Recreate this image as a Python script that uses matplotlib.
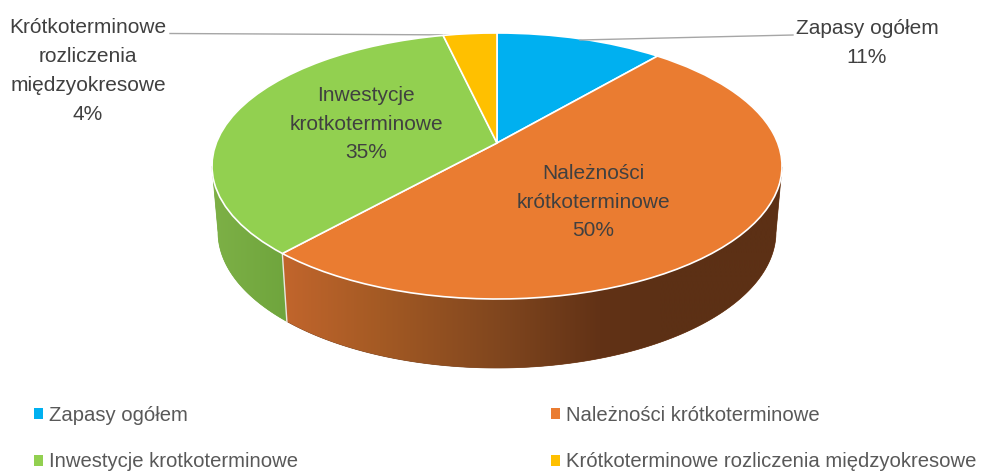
import numpy as np
import matplotlib
matplotlib.use('Agg')
import matplotlib.pyplot as plt
from matplotlib.colors import to_rgb
from matplotlib.patches import Polygon
from matplotlib.transforms import Transform

plt.rcParams['font.family'] = ['Liberation Sans']

categories = ['Zapasy ogółem', 'Należności krótkoterminowe',
              'Inwestycje krotkoterminowe', 'Krótkoterminowe rozliczenia międzyokresowe']
label_text = ['Zapasy ogółem', 'Należności\nkrótkoterminowe',
              'Inwestycje\nkrotkoterminowe', 'Krótkoterminowe\nrozliczenia\nmiędzyokresowe']
values = [11.2, 50.4, 34.8, 3.6]
colors = ['#00b0f0', '#ea7c31', '#92d050', '#ffc000']

# side wall shading, x pixel -> colour
side_stops = {
    1: ([285, 380, 500, 600, 660], ['#c1652c', '#a45a24', '#80461e', '#623216', '#5c3015']),
    2: ([215, 285], ['#7db046', '#6fa53d']),
}

label_xy = [(867, 43), (593, 202), (366, 124), (88, 71)]

# disc geometry in pixels
CX, CY, RX, RY = 497, 166, 285, 133
CY2, RX2, RY2 = 232, 279, 136
A = 0.173


def persp(x, y):
    d = 1 + A * y
    return x * np.sqrt(1 - A * A) / d, (y + A) / d


class Perspective(Transform):
    input_dims = 2
    output_dims = 2

    def transform_non_affine(self, v):
        v = np.asarray(v)
        x, y = persp(v[:, 0], v[:, 1])
        return np.column_stack([CX + RX * x, CY - RY * y])


fig = plt.figure(figsize=(9.89, 4.71), dpi=100)
ax = fig.add_axes([0, 0, 1, 1])

wedges, _ = ax.pie(values, colors=colors, startangle=90, counterclock=False,
                   wedgeprops={'edgecolor': '#ffffff', 'linewidth': 1.2, 'zorder': 3})
tr = Perspective() + ax.transData
for w in wedges:
    w.set_transform(tr)

# side wall
fracs = np.cumsum([0] + values) / sum(values)
for i in range(len(values)):
    if i not in side_stops:
        continue
    th = 2 * np.pi * np.linspace(fracs[i], fracs[i + 1], 500)
    x, y = persp(np.sin(th), np.cos(th))
    keep = y <= 0
    x, y = x[keep], y[keep]
    up = np.column_stack([CX + RX * x, CY - RY * y])
    lo = np.column_stack([CX + RX2 * x, CY2 - RY2 * y])
    stops_x, stops_c = side_stops[i]
    rgb = np.array([to_rgb(c) for c in stops_c])
    x0, x1 = min(up[:, 0].min(), lo[:, 0].min()), max(up[:, 0].max(), lo[:, 0].max())
    gx = np.linspace(x0, x1, 400)
    grad = np.column_stack([np.interp(gx, stops_x, rgb[:, k]) for k in range(3)])[None, :, :]
    poly = Polygon(np.vstack([up, lo[::-1]]), closed=True, facecolor=grad[0, 200],
                   edgecolor=grad[0, 200], lw=0.5, zorder=1.8)
    ax.add_patch(poly)
    im = ax.imshow(grad, extent=(x0, x1, 471, 0), aspect='auto', zorder=2, interpolation='bilinear')
    im.set_clip_path(poly)

ax.set_aspect('auto')
ax.set_xlim(0, 989)
ax.set_ylim(471, 0)
ax.axis('off')

# seam between green and orange walls
th = 2 * np.pi * fracs[2]
x, y = persp(np.sin(th), np.cos(th))
ax.plot([CX + RX * x, CX + RX2 * x], [CY - RY * y, CY2 - RY2 * y],
        color='#e8e8e0', lw=1.0, zorder=2.5)

# leader lines
ax.plot([170, 470], [33.5, 35], color='#a6a6a6', lw=1.0, zorder=1)
ax.plot([793, 580], [35, 40], color='#a6a6a6', lw=1.0, zorder=4)

for txt, v, (lx, ly) in zip(label_text, values, label_xy):
    ax.text(lx, ly, f'{txt}\n{v:.0f}%', ha='center', va='center', color='#404040',
            fontsize=15, linespacing=1.66, zorder=5)

order = [0, 2, 1, 3]
leg = ax.legend([wedges[i] for i in order], [categories[i] for i in order],
                ncol=2, frameon=False, loc='upper left',
                bbox_to_anchor=(34 / 989, 1 - 406 / 471), borderaxespad=0, borderpad=0,
                handlelength=0.45, handleheight=0.45, handletextpad=0.3,
                labelspacing=1.35, columnspacing=12.45, prop={'size': 14.6})
for t in leg.get_texts():
    t.set_color('#595959')
for h in leg.get_patches():
    h.set_linewidth(0)

fig.savefig('out.png', dpi=100)
